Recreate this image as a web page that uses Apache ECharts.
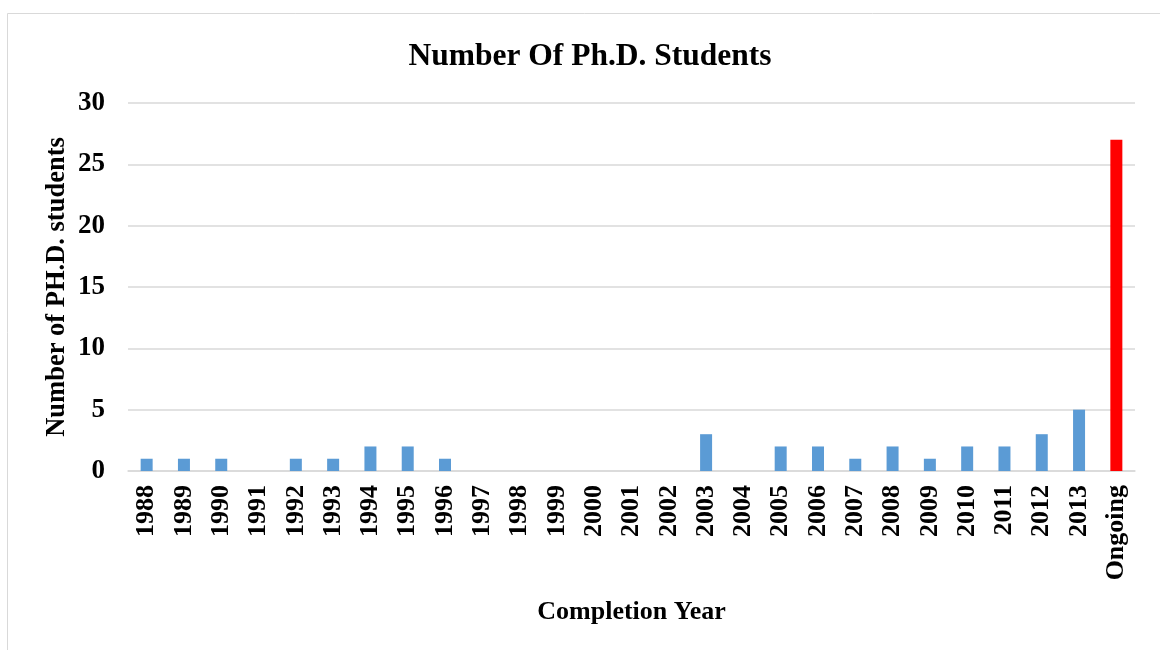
<!DOCTYPE html>
<html><head><meta charset="utf-8">
<script src="https://cdn.jsdelivr.net/npm/echarts@6/dist/echarts.min.js"></script>
<style>html,body{margin:0;padding:0;background:#fff}#c{width:1160px;height:650px}</style>
</head><body><div id="c"></div>
<script>
var categories = ['1988','1989','1990','1991','1992','1993','1994','1995','1996','1997','1998','1999','2000','2001','2002','2003','2004','2005','2006','2007','2008','2009','2010','2011','2012','2013','Ongoing'];
var students = [1,1,1,0,1,1,2,2,1,0,0,0,0,0,0,3,0,2,2,1,2,1,2,2,3,5,27];
var highlightCategory = 'Ongoing';
var yTicks = [0,5,10,15,20,25,30];

var font = '"Liberation Serif", "Times New Roman", serif';
var chart = echarts.init(document.getElementById('c'));
chart.setOption({
  animation: false,
  backgroundColor: '#fff',
  title: {
    text: 'Number Of Ph.D. Students', left: 585, top: 36, textAlign: 'center',
    textStyle: {fontFamily: font, fontWeight: 'bold', fontSize: 31.5, color: '#000'}
  },
  graphic: [{type: 'rect', shape: {x: 7.5, y: 13.5, width: 1200, height: 700}, style: {fill: 'none', stroke: '#d9d9d9', lineWidth: 1}, silent: true}],
  grid: {left: 128, right: 25, top: 103, bottom: 179},
  xAxis: {
    type: 'category', data: categories,
    name: 'Completion Year', nameLocation: 'middle', nameGap: 128,
    nameTextStyle: {fontFamily: font, fontWeight: 'bold', fontSize: 26, color: '#000'},
    axisLine: {lineStyle: {color: '#d9d9d9', width: 1.5}},
    axisTick: {show: false},
    axisLabel: {rotate: 90, interval: 0, margin: 14, fontFamily: font, fontWeight: 'bold', fontSize: 26, color: '#000'}
  },
  yAxis: {
    type: 'value', min: 0, max: 30, interval: 5,
    name: 'Number of PH.D. students', nameLocation: 'middle', nameGap: 57, nameMoveOverlap: false,
    nameTextStyle: {fontFamily: font, fontWeight: 'bold', fontSize: 26.5, color: '#000'},
    axisLine: {show: false}, axisTick: {show: false},
    splitLine: {lineStyle: {color: '#d9d9d9', width: 1.5}},
    axisLabel: {margin: 23, fontFamily: font, fontWeight: 'bold', fontSize: 27, color: '#000',
      formatter: function(v){ return yTicks.indexOf(v) >= 0 ? String(v) : ''; }}
  },
  series: [{
    type: 'bar', barWidth: 12,
    data: students.map(function(v, i){
      return categories[i] === highlightCategory ? {value: v, itemStyle: {color: '#ff0000'}} : v;
    }),
    itemStyle: {color: '#5b9bd5'}
  }]
});
</script></body></html>
